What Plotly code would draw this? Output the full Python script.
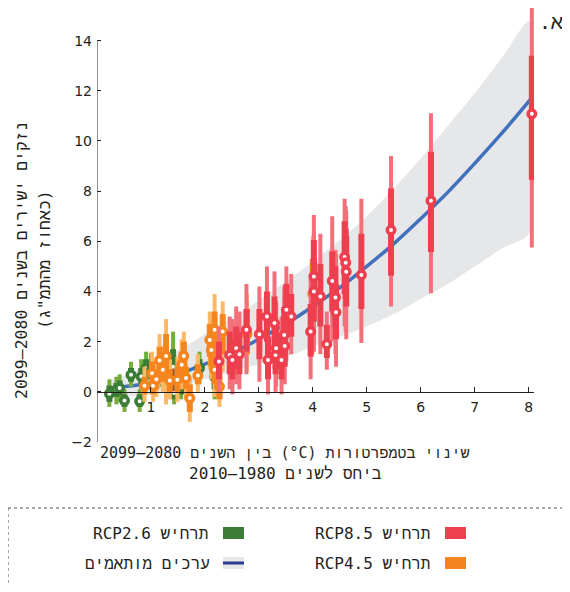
import plotly.graph_objects as go

# ---------------- data ----------------
fit_x = [0.25, 0.5, 1, 1.5, 2, 2.5, 3, 3.5, 4, 4.5, 5, 5.5, 6, 6.5, 7, 7.5, 8.05]
fit_y = [0.12, 0.2, 0.35, 0.7, 1.1, 1.55, 2.1, 2.7, 3.4, 4.15, 5.0, 5.9, 6.9, 7.95, 9.1, 10.3, 11.7]
band_hi = [0.45, 0.65, 1.1, 1.65, 2.3, 2.95, 3.65, 4.4, 5.2, 6.05, 7.0, 8.1, 9.3, 10.6, 11.9, 13.3, 14.8]
band_lo = [-0.2, -0.2, -0.1, 0.2, 0.5, 0.8, 1.1, 1.4, 1.8, 2.2, 2.6, 3.1, 3.7, 4.3, 5.0, 5.7, 6.45]

red_x = [2.26, 2.46, 2.51, 2.58, 2.64, 2.77, 3.01, 3.15, 3.17, 3.29, 3.31, 3.32, 3.42, 3.47, 3.48, 3.51, 3.60, 3.96,
         4.02, 4.02, 4.14, 4.26, 4.36, 4.42, 4.43, 4.59, 4.61, 4.62, 4.90, 5.45, 6.19, 8.06]
red_med = [1.21, 1.47, 1.27, 1.74, 1.50, 2.47, 2.30, 3.00, 1.27, 2.74, 1.47, 1.74, 1.27, 2.27, 1.83, 3.27, 3.00, 2.40,
           4.60, 4.00, 3.80, 1.90, 4.42, 3.76, 3.17, 5.37, 5.15, 4.79, 4.66, 6.45, 7.62, 11.08]
red_in_lo = [0.5, 0.7, 0.5, 0.9, 0.7, 1.6, 1.3, 2.0, 0.5, 1.8, 0.7, 0.9, 0.5, 1.3, 1.0, 2.2, 2.2, 1.4,
             3.3, 2.8, 2.6, 1.35, 3.2, 2.6, 2.1, 3.9, 3.7, 3.4, 3.3, 4.63, 5.57, 8.45]
red_in_hi = [2.0, 2.4, 2.1, 2.6, 2.4, 3.3, 3.3, 4.0, 2.2, 3.8, 2.4, 2.7, 2.2, 3.3, 2.8, 4.3, 3.9, 3.5,
             6.05, 5.3, 5.1, 2.67, 5.6, 5.0, 4.3, 6.8, 6.5, 6.2, 6.3, 8.11, 9.57, 13.4]
red_out_lo = [0.0, 0.1, -0.1, 0.3, 0.1, 0.7, 0.4, 1.0, -0.1, 0.9, 0.0, 0.2, -0.1, 0.4, 0.3, 1.2, 1.5, 0.5,
              2.1, 1.6, 1.5, 0.88, 2.0, 1.5, 1.0, 2.6, 2.4, 2.1, 1.95, 3.4, 3.93, 5.75]
red_out_hi = [2.6, 3.0, 2.9, 3.4, 3.2, 4.3, 4.2, 5.0, 3.0, 4.8, 3.3, 3.6, 3.0, 4.2, 3.8, 5.0, 4.7, 4.5,
              7.05, 6.4, 6.3, 3.2, 7.0, 5.66, 5.5, 7.7, 7.4, 7.2, 7.7, 9.4, 11.1, 15.4]

orange_x = [0.88, 1.02, 1.04, 1.10, 1.16, 1.22, 1.28, 1.35, 1.49, 1.57, 1.61, 1.65, 1.72, 1.87,
            2.09, 2.12, 2.18, 2.18, 2.24, 2.27, 2.33, 2.78, 4.00]
orange_med = [0.24, 0.74, 0.24, 0.50, 1.25, 0.88, 1.43, 0.45, 0.48, 1.08, 1.43, 0.55, -0.25, 0.65,
              2.07, 1.67, 2.47, 0.88, 1.21, 0.21, 2.40, 2.3, 3.9]
orange_in_lo = [-0.1, 0.3, -0.1, 0.1, 0.7, 0.4, 0.4, 0.0, 0.0, 0.6, 0.9, 0.1, -0.8, 0.3,
                1.4, 1.0, 1.7, 0.3, 0.5, -0.3, 1.5, 1.5, 2.5]
orange_in_hi = [0.6, 1.2, 0.6, 0.9, 1.8, 1.4, 2.3, 0.9, 1.0, 1.6, 2.0, 1.0, 0.3, 1.1,
                2.7, 2.3, 3.2, 1.6, 2.0, 0.9, 3.1, 3.3, 5.3]
orange_out_lo = [-0.4, -0.1, -0.4, -0.2, 0.3, 0.0, -0.5, -0.3, -0.4, 0.1, 0.4, -0.3, -1.2, 0.0,
                 0.9, 0.5, 0.9, -0.2, 0.0, -0.6, 0.8, 0.8, 1.5]
orange_out_hi = [1.0, 1.6, 1.0, 1.3, 2.3, 1.8, 2.9, 1.3, 1.4, 2.1, 2.4, 1.4, 0.5, 1.5,
                 3.2, 2.9, 3.9, 2.2, 2.6, 1.5, 3.6, 3.9, 6.2]

green_x = [0.23, 0.36, 0.42, 0.51, 0.63, 0.79, 0.82, 0.91, 1.00, 1.20, 1.41, 1.43, 1.56, 1.90, 2.18]
green_med = [-0.08, 0.08, 0.15, -0.35, 0.68, -0.38, 0.61, 0.94, 0.85, 0.9, 1.0, -0.05, 0.2, 0.95, 0.6]
green_in_lo = [-0.4, -0.2, -0.15, -0.6, 0.4, -0.6, 0.3, 0.6, 0.5, 0.5, 0.5, -0.3, -0.1, 0.6, 0.1]
green_in_hi = [0.25, 0.35, 0.45, -0.1, 0.95, -0.1, 0.95, 1.3, 1.2, 1.3, 1.7, 0.25, 0.5, 1.3, 1.2]
green_out_lo = [-0.6, -0.5, -0.4, -0.8, 0.2, -0.8, 0.1, 0.35, 0.2, 0.2, 0.1, -0.5, -0.3, 0.3, -0.3]
green_out_hi = [0.5, 0.6, 0.7, 0.1, 1.2, 0.1, 1.3, 1.6, 1.55, 1.55, 2.4, 0.5, 0.8, 1.6, 1.8]

x_ticks = [1, 2, 3, 4, 5, 6, 7, 8]
y_ticks = [-2, 0, 2, 4, 6, 8, 10, 12, 14]

RLE, PDF, LRE = "\u202b", "\u202c", "\u202a"
def rtl(s):
    return RLE + s + PDF

panel_label = "א."
y_title_1 = "נזקים ישירים בשנים 2080–2099"
y_title_2 = "(כאחוז מהתמ\"ג)"
x_title_1 = "שינוי בטמפרטורות (" + LRE + "°C" + PDF + ") בין השנים 2080–2099"
x_title_2 = "ביחס לשנים 1980–2010"
leg_red = "תרחיש RCP8.5"
leg_orange = "תרחיש RCP4.5"
leg_green = "תרחיש RCP2.6"
leg_fit = "ערכים מותאמים"

# ---------------- styling ----------------
RED, RED_L = "#EE3F4F", "#F3707B"
ORA, ORA_L = "#F5861F", "#FDB866"
GRN, GRN_L = "#3B7D36", "#78AC3A"
BLUE = "#4170BC"
BAND = "#E6E7E8"
TXT = "#231F20"
HEB = "DejaVu Sans Mono, Liberation Mono, monospace"

# page offset (default body margin) compensated: figure coords = page coords - 8
OFF = 8
FW, FH = 570 - 2 * OFF, 592 - 2 * OFF
L, W, T, H = 97 - OFF, 437, 0, 434
YTOP = 15.3
def PX(px):
    return (px - OFF - L) / W
def PY(py):
    return (T + H - (py - OFF)) / H

def segs(xs, lo, hi):
    sx, sy = [], []
    for x, a, b in zip(xs, lo, hi):
        sx += [x, x, None]
        sy += [a, b, None]
    return sx, sy

fig = go.Figure()

fig.add_trace(go.Scatter(x=fit_x + fit_x[::-1], y=band_hi + band_lo[::-1], fill="toself",
                         fillcolor=BAND, line=dict(width=0, shape="spline"), mode="lines",
                         hoverinfo="skip"))
fig.add_trace(go.Scatter(x=fit_x, y=fit_y, mode="lines",
                         line=dict(color=BLUE, width=3.5, shape="spline")))

for xs, med, ilo, ihi, olo, ohi, c, cl in [
    (green_x, green_med, green_in_lo, green_in_hi, green_out_lo, green_out_hi, GRN, GRN_L),
    (orange_x, orange_med, orange_in_lo, orange_in_hi, orange_out_lo, orange_out_hi, ORA, ORA_L),
    (red_x, red_med, red_in_lo, red_in_hi, red_out_lo, red_out_hi, RED, RED_L),
]:
    sx, sy = segs(xs, olo, ohi)
    fig.add_trace(go.Scatter(x=sx, y=sy, mode="lines", line=dict(color=cl, width=4)))
    sx, sy = segs(xs, ilo, ihi)
    fig.add_trace(go.Scatter(x=sx, y=sy, mode="lines", line=dict(color=c, width=6)))
    fig.add_trace(go.Scatter(x=xs, y=med, mode="markers", cliponaxis=False,
                             marker=dict(symbol="circle", size=7.5, color="white",
                                         line=dict(color=c, width=3.5))))

shapes = [
    dict(type="line", xref="x", yref="y", x0=0, x1=0, y0=-2, y1=14,
         line=dict(color=TXT, width=1)),
    # legend frame (dotted)
    dict(type="line", xref="paper", yref="paper", x0=PX(8), x1=PX(572), y0=PY(508), y1=PY(508),
         line=dict(color="#555", width=1, dash="dot")),
    dict(type="line", xref="paper", yref="paper", x0=PX(8), x1=PX(8), y0=PY(508), y1=PY(594),
         line=dict(color="#555", width=1, dash="dot")),
    # legend swatches
    dict(type="rect", xref="paper", yref="paper", x0=PX(445), x1=PX(466), y0=PY(539), y1=PY(527),
         fillcolor=RED, line=dict(width=0)),
    dict(type="rect", xref="paper", yref="paper", x0=PX(445), x1=PX(466), y0=PY(569), y1=PY(557),
         fillcolor=ORA, line=dict(width=0)),
    dict(type="rect", xref="paper", yref="paper", x0=PX(223), x1=PX(244), y0=PY(539), y1=PY(527),
         fillcolor=GRN, line=dict(width=0)),
    dict(type="rect", xref="paper", yref="paper", x0=PX(223), x1=PX(244), y0=PY(569), y1=PY(557),
         fillcolor=BAND, line=dict(width=0)),
    dict(type="line", xref="paper", yref="paper", x0=PX(223), x1=PX(244), y0=PY(563), y1=PY(563),
         line=dict(color="#2B3990", width=3)),
]

def ann(text, px, py, size, angle=0):
    return dict(text=rtl(text), x=PX(px), y=PY(py), xref="paper", yref="paper",
                showarrow=False, xanchor="center", yanchor="middle", textangle=angle,
                font=dict(family=HEB, size=size, color=TXT))

annotations = [
    ann(panel_label, 551, 22, 20),
    ann(y_title_1, 22, 260, 16.5, angle=-90),
    ann(y_title_2, 45, 260, 16.5, angle=-90),
    ann(x_title_1, 285, 453, 15),
    ann(x_title_2, 285, 474, 16),
    ann(leg_red, 372.5, 533, 16),
    ann(leg_orange, 372.5, 563, 16),
    ann(leg_green, 150, 533, 16),
    ann(leg_fit, 147, 563, 16),
]

fig.update_layout(
    width=FW, height=FH, showlegend=False,
    margin=dict(l=L, r=FW - L - W, t=T, b=FH - T - H, autoexpand=False),
    paper_bgcolor="white", plot_bgcolor="white",
    shapes=shapes, annotations=annotations,
    xaxis=dict(range=[0, 8.1], anchor="free", position=2 / (YTOP + 2), showline=True,
               linecolor=TXT, linewidth=1, ticks="inside", ticklen=5, tickcolor=TXT,
               tickvals=x_ticks, showgrid=False, zeroline=False, ticklabelstandoff=2,
               tickfont=dict(family="DejaVu Sans", size=14, color=TXT)),
    yaxis=dict(range=[-2, YTOP], domain=[0, 1], showline=False, ticks="inside", ticklen=4,
               tickcolor=TXT, tickvals=y_ticks, showgrid=False, zeroline=False,
               ticklabelstandoff=4,
               tickfont=dict(family="DejaVu Sans", size=14, color=TXT)),
)

fig.write_html("out.html")
